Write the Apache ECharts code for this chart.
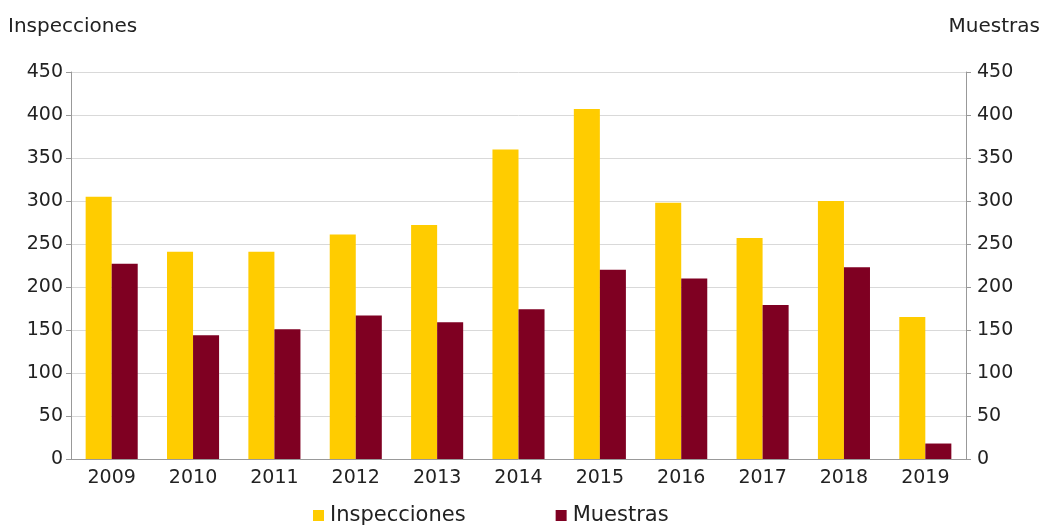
<!DOCTYPE html>
<html><head><meta charset="utf-8">
<script src="https://cdn.jsdelivr.net/npm/echarts@6/dist/echarts.min.js"></script>
<style>html,body{margin:0;padding:0;background:#fff}#c{width:1043px;height:531px}</style>
</head><body><div id="c"></div>
<script>
const years = ['2009','2010','2011','2012','2013','2014','2015','2016','2017','2018','2019'];
const inspecciones = [305,241,241,261,272,360,407,298,257,300,165];
const muestras = [227,144,151,167,159,174,220,210,179,223,18];
const yTicks = {min:0, max:450, interval:50};
const FONT = "'DejaVu Sans', 'Liberation Sans', Arial, sans-serif";
const chart = echarts.init(document.getElementById('c'));
const axisY = (pos) => ({
  type:'value', position:pos, min:yTicks.min, max:yTicks.max, interval:yTicks.interval,
  axisLine:{show:true, lineStyle:{color:'#999', width:1}},
  axisTick:{show:true, length:5, lineStyle:{color:'#999'}},
  axisLabel:{color:'#222', fontSize:19, fontFamily:FONT, margin: pos==='left' ? 8 : 11, padding:[3,0,0,0]},
  splitLine:{show: pos==='left', lineStyle:{color:'#d9d9d9', width:1}}
});
chart.setOption({
  animation:false,
  textStyle:{fontFamily:FONT},
  grid:{left:71, right:77, top:72, bottom:72, containLabel:false},
  title:[
    {text:'Inspecciones', left:3, top:12, textStyle:{fontSize:20, fontWeight:'normal', color:'#222', fontFamily:FONT}},
    {text:'Muestras', right:-2, top:12, textStyle:{fontSize:20, fontWeight:'normal', color:'#222', fontFamily:FONT}}
  ],
  legend:{top:505, left:313, padding:0, itemWidth:11, itemHeight:11, itemGap:90, icon:'rect',
    textStyle:{fontSize:21, color:'#222', fontFamily:FONT, padding:[0,0,0,1]},
    data:['Inspecciones','Muestras']},
  xAxis:{type:'category', data:years,
    axisLine:{show:true, lineStyle:{color:'#999'}},
    axisTick:{show:false},
    axisLabel:{color:'#222', fontSize:19, fontFamily:FONT, margin:10}},
  yAxis:[axisY('left'), axisY('right')],
  series:[
    {name:'Inspecciones', type:'bar', data:inspecciones, itemStyle:{color:'#FFCC00'}, barGap:'0%', barCategoryGap:'36%'},
    {name:'Muestras', type:'bar', data:muestras, itemStyle:{color:'#7F0022'}, barGap:'0%', barCategoryGap:'36%'}
  ]
});
</script></body></html>
